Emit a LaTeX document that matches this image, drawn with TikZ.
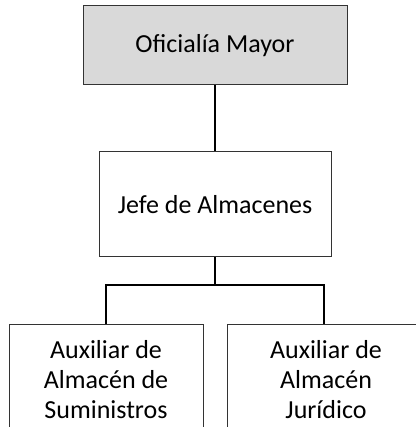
\documentclass[tikz,border=0pt]{standalone}
\usepackage{fontspec}
\setmainfont{Carlito}
\begin{document}
\begin{tikzpicture}[x=1pt,y=1pt,
            box/.style={draw=black!80, line width=1pt, align=center, inner sep=0pt,
                font=\fontsize{26}{30}\selectfont},
            link/.style={draw=black, line width=1.6pt}]
            \useasboundingbox (0,0) rectangle (415,427);
            \node[box, fill=black!15, minimum width=264, minimum height=79] (oficialia) at (215,381.5) {Oficialía Mayor};
            \node[box, minimum width=232, minimum height=105] (jefe) at (215,222.5) {Jefe de Almacenes};
            \node[box, minimum width=194, minimum height=110] (suministros) at (106,47) {Auxiliar de\\Almacén de\\Suministros};
            \node[box, minimum width=198, minimum height=110] (juridico) at (326,47) {Auxiliar de\\Almacén\\Jurídico};
            \coordinate (rama) at (215,142);
            \draw[link] (oficialia) -- (jefe);
            \draw[link] (jefe) -- (rama);
            \draw[link] (rama) -| (suministros.north);
            \draw[link] (rama) -| ([xshift=-2pt]juridico.north);
        \end{tikzpicture}
\end{document}
